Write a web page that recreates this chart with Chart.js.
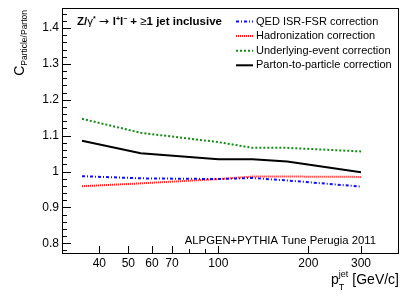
<!DOCTYPE html>
<html>
<head>
<meta charset="utf-8">
<script src="https://cdn.jsdelivr.net/npm/chart.js@4/dist/chart.umd.min.js"></script>
<style>
  html, body { margin: 0; padding: 0; background: #fff; }
  #wrap { width: 411px; height: 300px; }
</style>
</head>
<body>
<div id="wrap"><canvas id="corrChart" width="411" height="300"></canvas></div>
<script>
// jet pT values (GeV/c)
const ptValues = [35, 55, 100, 130, 170, 300];

// correction factors
const qedCorr = [0.987, 0.981, 0.979, 0.982, 0.975, 0.958];
const hadCorr = [0.959, 0.967, 0.979, 0.986, 0.986, 0.985];
const ueCorr = [1.147, 1.108, 1.082, 1.066, 1.066, 1.056];
const p2pCorr = [1.086, 1.051, 1.034, 1.034, 1.028, 0.998];

// axis ticks
const xTicks = [40, 50, 60, 70, 80, 90, 100, 200, 300];
const xLabels = [40, 50, 60, 70, 100, 200, 300];
const yTicks = [0.8, 0.9, 1.0, 1.1, 1.2, 1.3, 1.4];

const FONT = "'Liberation Sans', Arial, Helvetica, sans-serif";

function pts(ys) {
    return ptValues.map((x, i) => ({ x: x, y: ys[i] }));
}

const datasets = [
    { label: "QED ISR-FSR correction", data: pts(qedCorr), borderColor: "#1010ee", borderWidth: 2, borderDash: [3, 2, 1, 2] },
    { label: "Hadronization correction", data: pts(hadCorr), borderColor: "#f21b1b", borderWidth: 2, borderDash: [1, 1] },
    { label: "Underlying-event correction", data: pts(ueCorr), borderColor: "#138a13", borderWidth: 2, borderDash: [2, 2] },
    { label: "Parton-to-particle correction", data: pts(p2pCorr), borderColor: "#000000", borderWidth: 2, borderDash: [] }
];
datasets.forEach(d => { d.pointRadius = 0; d.fill = false; d.tension = 0; });

// frame, inner ticks, texts and legend (ROOT-like)
const decorPlugin = {
    id: "decor",
    afterDraw(chart) {
        const ctx = chart.ctx;
        const a = chart.chartArea;
        const xs = chart.scales.x, ys = chart.scales.y;
        ctx.save();
        ctx.strokeStyle = "#000";
        ctx.lineWidth = 1;
        ctx.strokeRect(a.left + 0.5, a.top + 0.5, a.right - a.left - 1, a.bottom - a.top - 1);

        // y ticks: major every 0.1, minor every 0.02
        ctx.beginPath();
        for (let i = 0; i <= 35; i++) {
            const v = 0.78 + i * 0.02;
            if (v > ys.max) break;
            const py = Math.round(ys.getPixelForValue(v)) + 0.5;
            const major = Math.abs(Math.round(v * 10) - v * 10) < 1e-6;
            ctx.moveTo(a.left, py);
            ctx.lineTo(a.left + (major ? 9 : 5), py);
        }
        // x ticks
        xTicks.forEach(v => {
            const px = Math.round(xs.getPixelForValue(v)) + 0.5;
            const major = xLabels.includes(v);
            ctx.moveTo(px, a.bottom);
            ctx.lineTo(px, a.bottom - (major ? 8 : 5));
        });
        ctx.stroke();

        ctx.fillStyle = "#000";

        // x tick labels, placed with the log scale
        ctx.font = "12px " + FONT;
        ctx.textAlign = "center";
        ctx.textBaseline = "top";
        xLabels.forEach(v => {
            ctx.fillText(String(v), xs.getPixelForValue(v), a.bottom + 4);
        });

        ctx.textBaseline = "alphabetic";
        ctx.textAlign = "left";

        // process label
        let x = 77, y = 25;
        const seg = (t, f, dy) => {
            ctx.font = f;
            ctx.fillText(t, x, y + (dy || 0));
            x += ctx.measureText(t).width;
        };
        const B = "bold 11.5px " + FONT, N = "11.5px " + FONT, S = "bold 7px " + FONT;
        seg("Z/", B); seg("γ", N); seg("*", S, -4); x += 3;
        seg("→", "12px 'DejaVu Sans'"); x += 4;
        seg("l", B); seg("+", S, -4); seg("l", B); seg("−", S, -4); x += 3;
        seg("+ ", B); seg("≥", N); seg("1 jet inclusive", B);

        // legend
        ctx.font = "11px " + FONT;
        ctx.textBaseline = "middle";
        datasets.forEach((d, i) => {
            const ly = 21.5 + i * 14.6;
            ctx.save();
            ctx.strokeStyle = d.borderColor;
            ctx.lineWidth = 2;
            ctx.setLineDash(d.borderDash);
            ctx.beginPath();
            ctx.moveTo(236, ly);
            ctx.lineTo(253, ly);
            ctx.stroke();
            ctx.restore();
            ctx.fillText(d.label, 256, ly);
        });

        // generator label
        ctx.textBaseline = "alphabetic";
        ctx.textAlign = "right";
        ctx.font = "11.3px " + FONT;
        ctx.fillText("ALPGEN+PYTHIA Tune Perugia 2011", 376, 244);

        // x title
        ctx.textAlign = "left";
        ctx.font = "14px " + FONT;
        const unit = "[GeV/c]";
        const uw = ctx.measureText(unit).width;
        ctx.fillText(unit, a.right - uw, 284);
        let tx = a.right - uw - 4;
        ctx.font = "9px " + FONT;
        tx -= ctx.measureText("jet").width;
        ctx.fillText("jet", tx, 277);
        ctx.fillText("T", tx, 290);
        ctx.font = "14px " + FONT;
        tx -= ctx.measureText("p").width;
        ctx.fillText("p", tx, 284);

        // y title (rotated)
        ctx.translate(24, a.top);
        ctx.rotate(-Math.PI / 2);
        ctx.font = "8.5px " + FONT;
        const sub = "Particle/Parton";
        const sw = ctx.measureText(sub).width;
        ctx.font = "14px " + FONT;
        const cw = ctx.measureText("C").width;
        ctx.fillText("C", -sw - cw - 2, 0);
        ctx.font = "8.5px " + FONT;
        ctx.fillText(sub, -sw - 2, 3);
        ctx.restore();
    }
};

const ctx = document.getElementById("corrChart").getContext("2d");
new Chart(ctx, {
    type: "line",
    data: { datasets: datasets },
    options: {
        responsive: false,
        animation: false,
        layout: { padding: { left: 0, right: 12, top: 8, bottom: 0 } },
        plugins: { legend: { display: false }, tooltip: { enabled: false } },
        scales: {
            x: {
                type: "logarithmic",
                min: 30,
                max: 402,
                afterBuildTicks: s => { s.ticks = xTicks.map(v => ({ value: v })); },
                afterFit: s => { s.height = 46; s.paddingLeft = 0; s.paddingRight = 0; },
                grid: { display: false, drawTicks: false, tickLength: 0 },
                border: { display: false },
                ticks: { display: false }
            },
            y: {
                type: "linear",
                min: 0.77,
                max: 1.456,
                afterBuildTicks: s => { s.ticks = yTicks.map(v => ({ value: v })); },
                afterFit: s => { s.width = 62; s.paddingTop = 0; s.paddingBottom = 0; },
                grid: { display: false, drawTicks: false, tickLength: 0 },
                border: { display: false },
                ticks: {
                    padding: 3,
                    color: "#000",
                    font: { family: FONT, size: 12 },
                    callback: v => (Math.abs(v - 1) < 1e-6 ? "1" : v.toFixed(1))
                }
            }
        }
    },
    plugins: [decorPlugin]
});
</script>
</body>
</html>
